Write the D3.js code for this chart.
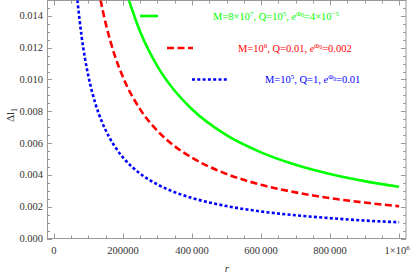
<!DOCTYPE html>
<html>
<head>
<meta charset="utf-8">
<script src="https://cdn.jsdelivr.net/npm/d3@7"></script>
<style>
  body { margin: 0; background: #fff; }
  svg { display: block; font-family: "Liberation Serif", "DejaVu Serif", serif; }
  .frame { fill: none; stroke: #999; stroke-width: 1; }
  .tick-line { stroke: #999; stroke-width: 1; }
  .tick-label { fill: #333; font-size: 10.5px; }
</style>
</head>
<body>
<svg></svg>
<script>
//data
var rBlue = [68000, 80000, 90000, 100000, 120000, 140000, 160000, 180000, 200000, 250000,
             300000, 350000, 400000, 500000, 600000, 700000, 800000, 900000, 1000000];
var dlBlue = [0.0150, 0.01275, 0.01133, 0.0102, 0.0085, 0.00729, 0.00638, 0.00567, 0.0051, 0.00408,
              0.0034, 0.00291, 0.00255, 0.00204, 0.0017, 0.00146, 0.00128, 0.00113, 0.00102];

var rRed = [135000, 150000, 175000, 200000, 250000, 300000, 350000, 400000, 500000,
            600000, 700000, 800000, 900000, 1000000];
var dlRed = [0.0150, 0.01353, 0.0116, 0.01015, 0.00812, 0.00677, 0.0058, 0.00508, 0.00406,
             0.00338, 0.0029, 0.00254, 0.00226, 0.00203];

var rGreen = [217000, 250000, 300000, 350000, 400000, 500000, 600000, 700000, 800000, 900000, 1000000];
var dlGreen = [0.0150, 0.0130, 0.01083, 0.00929, 0.00813, 0.0065, 0.00542, 0.00464, 0.00406, 0.00361, 0.00325];

var xTicks = [0, 200000, 400000, 600000, 800000, 1000000];
var xTickLabels = ["0", "200000", "400\u2009000", "600\u2009000", "800\u2009000", "1\u00d710"];
var yTicks = [0, 0.002, 0.004, 0.006, 0.008, 0.010, 0.012, 0.014];
var yTickLabels = ["0.000", "0.002", "0.004", "0.006", "0.008", "0.010", "0.012", "0.014"];

//layout conf.
var svgWidth = 415,
    svgHeight = 277,
    frame = {left: 47, right: 406, top: 0.5, bottom: 238.5};

var x = d3.scaleLinear().domain([-20000, 1020000]).range([frame.left, frame.right]);
var y = d3.scaleLinear().domain([0, 0.015]).range([frame.bottom, 0]);

var svg = d3.select("svg")
    .attr("width", svgWidth)
    .attr("height", svgHeight);

svg.append("defs").append("clipPath")
    .attr("id", "plotClip")
  .append("rect")
    .attr("x", frame.left)
    .attr("y", frame.top)
    .attr("width", frame.right - frame.left)
    .attr("height", frame.bottom - frame.top);

//ticks (inward, on all four sides)
var xMinor = d3.range(0, 1000001, 50000);
var yMinor = d3.range(0, 0.01501, 0.0005);
var ticksG = svg.append("g");

xMinor.forEach(function(v) {
    var major = xTicks.indexOf(v) >= 0;
    var len = major ? 5 : 3;
    var px = Math.round(x(v)) + 0.5;
    ticksG.append("line").classed("tick-line", true)
        .attr("x1", px).attr("x2", px)
        .attr("y1", frame.bottom).attr("y2", frame.bottom - len);
    ticksG.append("line").classed("tick-line", true)
        .attr("x1", px).attr("x2", px)
        .attr("y1", frame.top).attr("y2", frame.top + len);
});

yMinor.forEach(function(v, i) {
    var major = i % 4 == 0;
    var len = major ? 5 : 3;
    var py = Math.round(y(v)) + 0.5;
    ticksG.append("line").classed("tick-line", true)
        .attr("x1", frame.left).attr("x2", frame.left + len)
        .attr("y1", py).attr("y2", py);
    ticksG.append("line").classed("tick-line", true)
        .attr("x1", frame.right).attr("x2", frame.right - len)
        .attr("y1", py).attr("y2", py);
});

svg.append("rect").classed("frame", true)
    .attr("x", frame.left + 0.5)
    .attr("y", frame.top)
    .attr("width", frame.right - frame.left - 0.5)
    .attr("height", frame.bottom - frame.top);

//tick labels
var xLab = svg.append("g").selectAll("text")
    .data(xTicks)
    .enter()
    .append("text")
    .classed("tick-label", true)
    .attr("x", function(d) { return x(d); })
    .attr("y", 254)
    .attr("text-anchor", "middle")
    .text(function(d, i) { return xTickLabels[i]; });

xLab.filter(function(d) { return d == 1000000; })
    .attr("x", function(d) { return x(d) - 2; })
    .append("tspan")
    .attr("dy", -4)
    .style("font-size", "7px")
    .text("6");

svg.append("g").selectAll("text")
    .data(yTicks)
    .enter()
    .append("text")
    .classed("tick-label", true)
    .attr("x", 43)
    .attr("y", function(d) { return y(d) + 3.5; })
    .attr("text-anchor", "end")
    .text(function(d, i) { return yTickLabels[i]; });

//axis labels
svg.append("text")
    .attr("x", 227)
    .attr("y", 272)
    .attr("text-anchor", "middle")
    .style("font-style", "italic")
    .style("font-size", "11px")
    .style("fill", "#333")
    .text("r");

var yl = svg.append("text")
    .attr("transform", "translate(14,115) rotate(-90)")
    .attr("text-anchor", "middle")
    .style("font-size", "11px")
    .style("fill", "#333");
yl.append("tspan").text("\u0394l");
yl.append("tspan").attr("dy", 3).style("font-size", "8px").text("1");

//curves
var series = [
    {r: rGreen, v: dlGreen, color: "#00ff00", dash: null},
    {r: rRed, v: dlRed, color: "#ff0000", dash: "7,3.5"},
    {r: rBlue, v: dlBlue, color: "#0000ff", dash: "3,2.3"}
];

var line = d3.line()
    .x(function(d) { return x(d[0]); })
    .y(function(d) { return y(d[1]); })
    .curve(d3.curveMonotoneX);

svg.append("g")
    .attr("clip-path", "url(#plotClip)")
    .selectAll("path")
    .data(series)
    .enter()
    .append("path")
    .attr("d", function(s) { return line(d3.zip(s.r, s.v)); })
    .style("fill", "none")
    .style("stroke", function(s) { return s.color; })
    .style("stroke-width", 2.6)
    .style("stroke-dasharray", function(s) { return s.dash; });

//legend
var legend = [
    {x1: 140, x2: 158, y: 16, tx: 213, color: "#00ff00", dash: null,
     parts: [["M=8\u00d710", 0], ["7", 1], [", Q=10", 0], ["5", 1], [", ", 0], ["e", 2], ["\u03a6", 3], ["0", 4], ["=4\u00d710", 0], ["\u22125", 1]]},
    {x1: 167, x2: 193, y: 48, tx: 238, color: "#ff0000", dash: "7,3.5",
     parts: [["M=10", 0], ["6", 1], [", Q=0.01, ", 0], ["e", 2], ["\u03a6", 3], ["0", 4], ["=0.002", 0]]},
    {x1: 192, x2: 228, y: 79.5, tx: 265, color: "#0000ff", dash: "3,2.3",
     parts: [["M=10", 0], ["5", 1], [", Q=1, ", 0], ["e", 2], ["\u03a6", 3], ["0", 4], ["=0.01", 0]]}
];

var legendG = svg.append("g").selectAll("g")
    .data(legend)
    .enter()
    .append("g");

legendG.append("line")
    .attr("x1", function(d) { return d.x1; })
    .attr("x2", function(d) { return d.x2; })
    .attr("y1", function(d) { return d.y; })
    .attr("y2", function(d) { return d.y; })
    .style("stroke", function(d) { return d.color; })
    .style("stroke-width", 2.6)
    .style("stroke-dasharray", function(d) { return d.dash; });

legendG.each(function(d) {
    var t = d3.select(this).append("text")
        .attr("x", d.tx)
        .attr("y", d.y + 3.5)
        .style("font-size", "10.5px")
        .style("fill", d.color);
    var level = 0;
    d.parts.forEach(function(p) {
        var kind = p[1];
        var ts = t.append("tspan").text(p[0]);
        // 0 normal, 1 superscript, 2 italic e, 3 superscript Phi, 4 sub-sub 0
        var target = 0;
        if (kind == 1 || kind == 3) target = -4;
        if (kind == 4) target = -2.5;
        ts.attr("dy", target - level);
        level = target;
        if (kind == 1 || kind == 3) ts.style("font-size", "7px");
        if (kind == 4) ts.style("font-size", "5.5px");
        if (kind == 2) ts.style("font-style", "italic");
    });
});
</script>
</body>
</html>
